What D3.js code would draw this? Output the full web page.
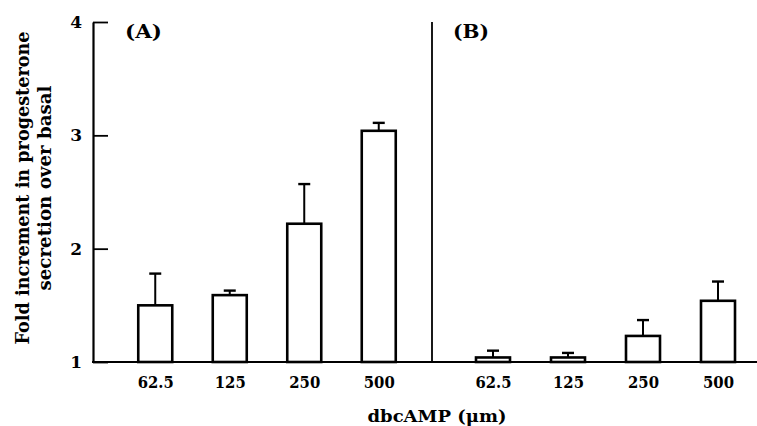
<!DOCTYPE html>
<html><head><meta charset="utf-8">
<script src="https://cdn.jsdelivr.net/npm/d3@7"></script>
<style>body{margin:0;background:#fff}svg{display:block}</style>
</head><body>
<script>
const categories = ["62.5", "125", "250", "500"];
const valuesA = [1.50, 1.59, 2.22, 3.04];
const errorsA = [1.78, 1.63, 2.57, 3.11];
const valuesB = [1.04, 1.04, 1.23, 1.54];
const errorsB = [1.10, 1.08, 1.37, 1.71];
const yTicks = [1, 2, 3, 4];
const panelLabels = ["(A)", "(B)"];
const yTitle = ["Fold increment in progesterone", "secretion over basal"];
const xTitle = "dbcAMP (\u03bcm)";

const W = 757, H = 426;
const font = "'DejaVu Serif','Liberation Serif',serif";
const svg = d3.select("body").append("svg").attr("width", W).attr("height", H);

const y = d3.scaleLinear().domain([1, 4]).range([362, 22]);
const xA = d3.scalePoint().domain(categories).range([118, 416]).padding(0.5);
const xB = d3.scalePoint().domain(categories).range([455.5, 755.5]).padding(0.5);
const barW = 34;

// y axis
const yAxis = svg.append("g").attr("transform", "translate(93,0)")
  .call(d3.axisLeft(y).tickValues(yTicks).tickFormat(d3.format("d")).tickSizeInner(-15).tickSizeOuter(0).tickPadding(11));
yAxis.select(".domain").attr("stroke-width", 2.2);
yAxis.selectAll(".tick line").attr("stroke-width", 1.8);
yAxis.selectAll(".tick text").attr("font-family", font).attr("font-weight", "bold").attr("font-size", 17).attr("fill", "#000");

// baseline
svg.append("line").attr("x1", 92).attr("x2", 757).attr("y1", y(1)).attr("y2", y(1))
  .attr("stroke", "#000").attr("stroke-width", 2.2);
// divider
svg.append("line").attr("x1", 432).attr("x2", 432).attr("y1", y(4)).attr("y2", y(1))
  .attr("stroke", "#000").attr("stroke-width", 1.8);

function panel(x, vals, errs) {
  const g = svg.append("g");
  const data = categories.map((c, i) => ({c, v: vals[i], e: errs[i]}));
  g.selectAll("line.err").data(data).join("line").attr("class", "err")
    .attr("x1", d => x(d.c)).attr("x2", d => x(d.c))
    .attr("y1", d => y(d.v)).attr("y2", d => y(d.e))
    .attr("stroke", "#000").attr("stroke-width", 2);
  g.selectAll("line.cap").data(data).join("line").attr("class", "cap")
    .attr("x1", d => x(d.c) - 6).attr("x2", d => x(d.c) + 6)
    .attr("y1", d => y(d.e)).attr("y2", d => y(d.e))
    .attr("stroke", "#000").attr("stroke-width", 2.4);
  g.selectAll("rect").data(data).join("rect")
    .attr("x", d => x(d.c) - barW / 2).attr("width", barW)
    .attr("y", d => y(d.v)).attr("height", d => y(1) - y(d.v))
    .attr("fill", "#fff").attr("stroke", "#000").attr("stroke-width", 2.6);
  const ax = svg.append("g").attr("transform", `translate(0,${y(1)})`)
    .call(d3.axisBottom(x).tickSize(0).tickPadding(14));
  ax.select(".domain").remove();
  ax.selectAll(".tick text").attr("font-family", font).attr("font-weight", "bold")
    .attr("font-size", 17).attr("fill", "#000")
    .each(function(d){ const n = String(d).length; d3.select(this).attr("textLength", n === 4 ? 36 : 31).attr("lengthAdjust", "spacingAndGlyphs"); });
}
panel(xA, valuesA, errorsA);
panel(xB, valuesB, errorsB);

// panel labels
svg.append("text").attr("x", 125).attr("y", 38).text(panelLabels[0])
  .attr("font-family", font).attr("font-weight", "bold").attr("font-size", 19)
  .attr("textLength", 37).attr("lengthAdjust", "spacingAndGlyphs");
svg.append("text").attr("x", 453).attr("y", 38).text(panelLabels[1])
  .attr("font-family", font).attr("font-weight", "bold").attr("font-size", 19)
  .attr("textLength", 36).attr("lengthAdjust", "spacingAndGlyphs");

// x title
svg.append("text").attr("x", 437).attr("y", 422).attr("text-anchor", "middle").text(xTitle)
  .attr("font-family", font).attr("font-weight", "bold").attr("font-size", 17)
  .attr("textLength", 139).attr("lengthAdjust", "spacingAndGlyphs");

// y title
const yt = svg.append("g").attr("transform", "translate(0,188) rotate(-90)");
yt.append("text").attr("x", 0).attr("y", 29).attr("text-anchor", "middle").text(yTitle[0])
  .attr("font-family", font).attr("font-weight", "bold").attr("font-size", 18.5)
  .attr("textLength", 313).attr("lengthAdjust", "spacingAndGlyphs");
yt.append("text").attr("x", 0).attr("y", 51).attr("text-anchor", "middle").text(yTitle[1])
  .attr("font-family", font).attr("font-weight", "bold").attr("font-size", 18.5)
  .attr("textLength", 205).attr("lengthAdjust", "spacingAndGlyphs");
</script>
</body></html>
